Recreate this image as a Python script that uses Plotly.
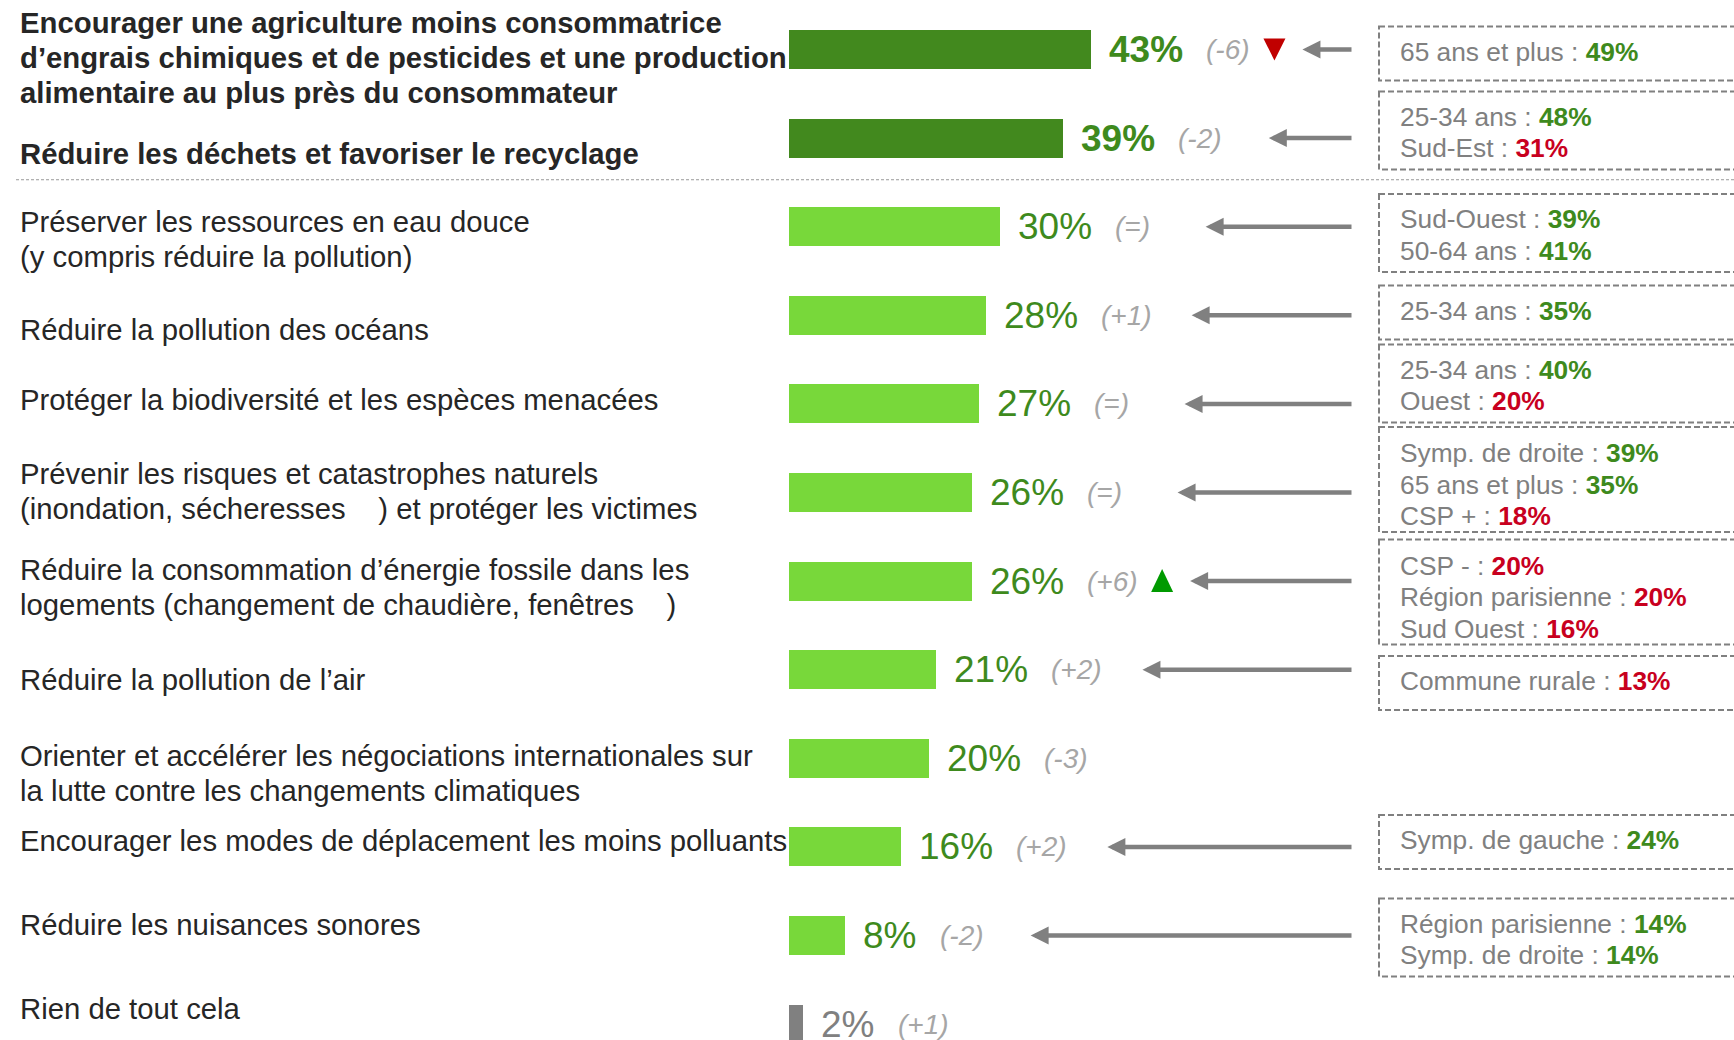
import plotly.graph_objects as go

# ---------------- data ----------------
categories = [
    ["Encourager une agriculture moins consommatrice",
     "d\u2019engrais chimiques et de pesticides et une production",
     "alimentaire au plus près du consommateur"],
    ["Réduire les déchets et favoriser le recyclage"],
    ["Préserver les ressources en eau douce", "(y compris réduire la pollution)"],
    ["Réduire la pollution des océans"],
    ["Protéger la biodiversité et les espèces menacées"],
    ["Prévenir les risques et catastrophes naturels",
     "(inondation, sécheresses\u00a0\u00a0\u00a0 ) et protéger les victimes"],
    ["Réduire la consommation d\u2019énergie fossile dans les",
     "logements (changement de chaudière, fenêtres\u00a0\u00a0\u00a0 )"],
    ["Réduire la pollution de l\u2019air"],
    ["Orienter et accélérer les négociations internationales sur",
     "la lutte contre les changements climatiques"],
    ["Encourager les modes de déplacement les moins polluants"],
    ["Réduire les nuisances sonores"],
    ["Rien de tout cela"],
]
values = [43, 39, 30, 28, 27, 26, 26, 21, 20, 16, 8, 2]
changes = ["(-6)", "(-2)", "(=)", "(+1)", "(=)", "(=)", "(+6)", "(+2)", "(-3)", "(+2)", "(-2)", "(+1)"]
trends = ["down", None, None, None, None, None, "up", None, None, None, None, None]
groups = ["top", "top", "mid", "mid", "mid", "mid", "mid", "mid", "mid", "mid", "mid", "none"]

box_labels = [
    ["65 ans et plus"],
    ["25-34 ans", "Sud-Est"],
    ["Sud-Ouest", "50-64 ans"],
    ["25-34 ans"],
    ["25-34 ans", "Ouest"],
    ["Symp. de droite", "65 ans et plus", "CSP +"],
    ["CSP -", "Région parisienne", "Sud Ouest"],
    ["Commune rurale"],
    [],
    ["Symp. de gauche"],
    ["Région parisienne", "Symp. de droite"],
    [],
]
box_values = [
    [49], [48, 31], [39, 41], [35], [40, 20], [39, 35, 18],
    [20, 20, 16], [13], [], [24], [14, 14], [],
]
box_dirs = [  # "+" over-represented (green), "-" under-represented (red)
    ["+"], ["+", "-"], ["+", "+"], ["+"], ["+", "-"], ["+", "+", "-"],
    ["-", "-", "-"], ["-"], [], ["+"], ["+", "+"], [],
]

# ---------------- styles / layout ----------------
W, H = 1734, 1040
ZERO_PX, PX_PER_PCT = 789.0, 7.02
ROW0_PX, ROW_PX = 49.5, 88.6
FONT = "Arial, Liberation Sans, sans-serif"

BAR_COL = {"top": "#42891E", "mid": "#78D83A", "none": "#808080"}
VAL_COL = {"top": "#3E8A1D", "mid": "#3E8A1D", "none": "#808080"}
GREEN_TXT, RED_TXT = "#3E8A1D", "#C8001E"
CHG_COL = "#A6A6A6"
GREY = "#808080"
LABEL_COL = "#262626"

LBL_FS, VAL_FS, CHG_FS, BOX_FS = 29.3, 37, 28, 26.3
LBL_LINE, BOX_LINE = 35, 31.5
LBL_DY = [5.5, 13.3, 10.3, 12.5, -6.3, -3.3, 4.2, 7.9, 12.9, -8.5, -13, -17.4]
BOX_DY = [4, -7.6, 6.3, -2.8, -20.4, -13, 10.9, 13.3, 0, -4.9, 2, 0]
BOX_H = {1: 54, 2: 78, 3: 105}
BOX_TXT_DY = {1: -2, 2: 2, 3: 5}

EM = {"%": .889, "(": .333, ")": .333, "-": .333, "+": .584, "=": .584}


def tw(s, fs):
    return sum(EM.get(c, .556) for c in s) * fs


def xd(px):
    return (px - ZERO_PX) / PX_PER_PCT


def yd(px):
    return (px - ROW0_PX) / ROW_PX


def row_px(i):
    return ROW0_PX + ROW_PX * i


n = len(values)
rows = list(range(n))

fig = go.Figure()
fig.add_trace(go.Bar(
    x=values, y=rows, orientation="h", width=39 / ROW_PX,
    marker=dict(color=[BAR_COL[g] for g in groups], line=dict(width=0)),
    hoverinfo="skip",
))

ann = []
shapes = []

for i in rows:
    v = values[i]
    g = groups[i]
    bold = g == "top"
    # left category labels
    lines = categories[i]
    c = row_px(i) + LBL_DY[i] + 2
    for k, t in enumerate(lines):
        y = c + (k - (len(lines) - 1) / 2) * LBL_LINE
        ann.append(dict(x=xd(18), y=yd(y), xref="x", yref="y", xanchor="left", yanchor="middle",
                        text=f"<b>{t}</b>" if bold else t, showarrow=False,
                        font=dict(family=FONT, size=LBL_FS, color=LABEL_COL)))
    # value label
    vt = f"{v}%"
    ann.append(dict(x=v + 16 / PX_PER_PCT, y=i, xref="x", yref="y", xanchor="left", yanchor="middle",
                    text=f"<b>{vt}</b>" if bold else vt, showarrow=False,
                    font=dict(family=FONT, size=VAL_FS, color=VAL_COL[g])))
    # change label
    bar_end = ZERO_PX + v * PX_PER_PCT
    chg_px = bar_end + 16 + tw(vt, VAL_FS) + 23
    ann.append(dict(x=xd(chg_px), y=i, xref="x", yref="y", xanchor="left", yanchor="middle",
                    text=f"<i>{changes[i]}</i>", showarrow=False,
                    font=dict(family=FONT, size=CHG_FS, color=CHG_COL)))
    head_px = chg_px + 93
    if trends[i]:
        tri_left = chg_px + tw(changes[i], CHG_FS) + 16
        if trends[i] == "down":
            path, col = "M-11,11 L11,11 L0,-11 Z", "#C00000"
        else:
            path, col = "M-11,-11 L11,-11 L0,12 Z", "#009A00"
        shapes.append(dict(type="path", xref="x", yref="y", xsizemode="pixel", ysizemode="pixel",
                           xanchor=xd(tri_left + 11), yanchor=i, path=path,
                           fillcolor=col, line=dict(width=0)))
        head_px = max(head_px, tri_left + 22 + 17)
    # boxes + arrows
    labs = box_labels[i]
    if labs:
        ann.append(dict(x=xd(head_px), y=i, ax=xd(1353), ay=i, xref="x", yref="y",
                        axref="x", ayref="y", text="", showarrow=True,
                        arrowhead=2, arrowsize=0.8, arrowwidth=4.5, arrowcolor=GREY))
        bc = row_px(i) + BOX_DY[i]
        bh = BOX_H[len(labs)]
        shapes.append(dict(type="rect", xref="x", yref="y", x0=xd(1379), x1=xd(W + 20),
                           y0=yd(bc - bh / 2), y1=yd(bc + bh / 2),
                           line=dict(color=GREY, width=2, dash="6px,3px"), fillcolor="rgba(0,0,0,0)"))
        tc = bc + BOX_TXT_DY[len(labs)]
        for k, (lab, val, d) in enumerate(zip(labs, box_values[i], box_dirs[i])):
            y = tc + (k - (len(labs) - 1) / 2) * BOX_LINE
            col = GREEN_TXT if d == "+" else RED_TXT
            ann.append(dict(x=xd(1398), y=yd(y), xref="x", yref="y", xanchor="left", yanchor="middle",
                            text=f"{lab} : <b><span style='color:{col}'>{val}%</span></b>",
                            showarrow=False, font=dict(family=FONT, size=BOX_FS, color=GREY)))

# separator between the two top items and the rest
shapes.append(dict(type="line", xref="x", yref="y", x0=xd(16), x1=xd(W), y0=1.47, y1=1.47,
                   line=dict(color="#9A9A9A", width=1, dash="3px,2px")))

fig.update_layout(
    width=W, height=H, margin=dict(l=0, r=0, t=0, b=0),
    paper_bgcolor="white", plot_bgcolor="white", showlegend=False,
    xaxis=dict(range=[xd(0), xd(W)], visible=False, fixedrange=True),
    yaxis=dict(range=[yd(H), yd(0)], visible=False, fixedrange=True),
    annotations=ann, shapes=shapes, bargap=0,
)

fig.write_html(
    "out.html",
    config={"displayModeBar": False},
    post_script="document.body.style.margin='0';document.body.style.overflow='hidden';",
)
